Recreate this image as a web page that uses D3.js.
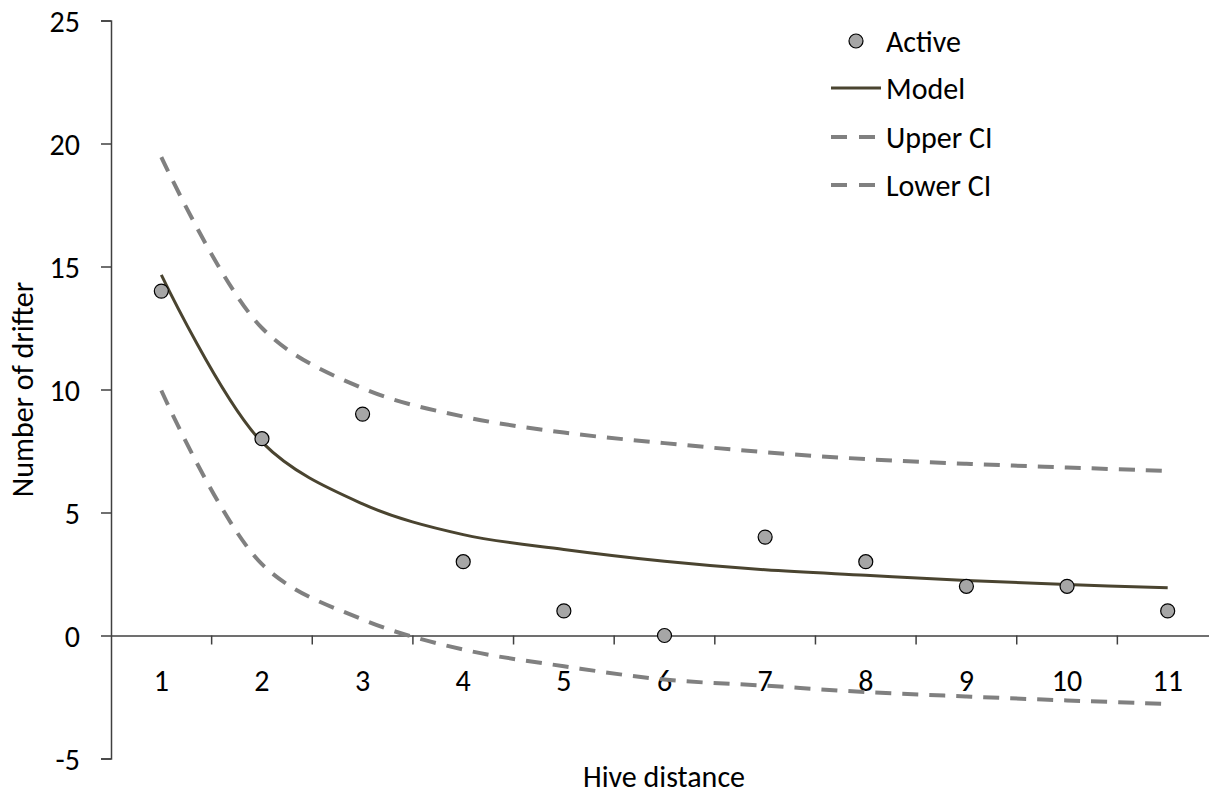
<!DOCTYPE html>
<html lang="en">
<head>
<meta charset="UTF-8">
<title>Hive distance drifters</title>
<script src="https://d3js.org/d3.v7.min.js"></script>
<style>
  body { margin: 0; background: #fff; }
  text { font-family: Carlito, Calibri, Lato, sans-serif; fill: #000; }
  .tick text { font-size: 30px; }
  .title { font-size: 30px; }
  .legend text { font-size: 30px; }
</style>
</head>
<body>
<svg width="1209" height="797"></svg>
<script>
// data
const distances = ["1", "2", "3", "4", "5", "6", "7", "8", "9", "10", "11"];
const active  = [14, 8, 9, 3, 1, 0, 4, 3, 2, 2, 1];
const model   = [14.66, 7.86, 5.35, 4.1, 3.5, 3.02, 2.67, 2.45, 2.24, 2.07, 1.94];
const upperCI = [19.45, 12.5, 10.05, 8.9, 8.25, 7.82, 7.45, 7.17, 6.98, 6.83, 6.69];
const lowerCI = [9.96, 2.9, 0.65, -0.57, -1.25, -1.79, -2.04, -2.3, -2.48, -2.64, -2.78];
const yTicks  = [-5, 0, 5, 10, 15, 20, 25];

const svg = d3.select("svg");
const plotL = 111, plotR = 1218, plotT = 20.5, plotB = 758.5;

const x = d3.scaleBand().domain(distances).range([plotL, plotR]);
const y = d3.scaleLinear().domain([-5, 25]).range([plotB, plotT]);
const cx = d => x(d) + x.bandwidth() / 2;

// y axis (plain hyphen for negatives)
const yG = svg.append("g")
    .attr("transform", `translate(${plotL},0)`)
    .call(d3.axisLeft(y).tickValues(yTicks).tickSize(10).tickPadding(21).tickFormat(d => String(d)));
yG.selectAll("path, line").attr("stroke", "#404040").attr("stroke-width", 1.5);
yG.selectAll("text").attr("dy", "0.35em");

// x axis sits on zero
const xG = svg.append("g")
    .attr("transform", `translate(0,${y(0)})`)
    .call(d3.axisBottom(x).tickSize(0).tickPadding(55));
xG.select("path").attr("stroke", "#404040").attr("stroke-width", 1.5);
xG.selectAll(".tick text").attr("dy", "0");
// tick marks between categories
xG.selectAll("line.sep")
  .data(distances.slice(1).concat(["end"]))
  .join("line").attr("class", "sep")
  .attr("x1", (d, i) => x(distances[0]) + x.step() * (i + 1))
  .attr("x2", (d, i) => x(distances[0]) + x.step() * (i + 1))
  .attr("y1", 0).attr("y2", 9)
  .attr("stroke", "#404040").attr("stroke-width", 1.5);

// lines
const lineOf = vals => d3.line()
    .x((d, i) => cx(distances[i]))
    .y(d => y(d))
    .curve(d3.curveCatmullRom.alpha(0.5))(vals);

svg.append("path").attr("d", lineOf(upperCI))
  .attr("fill", "none").attr("stroke", "#808080").attr("stroke-width", 4)
  .attr("stroke-dasharray", "16,11");
svg.append("path").attr("d", lineOf(lowerCI))
  .attr("fill", "none").attr("stroke", "#808080").attr("stroke-width", 4)
  .attr("stroke-dasharray", "16,11");
svg.append("path").attr("d", lineOf(model))
  .attr("fill", "none").attr("stroke", "#4a4430").attr("stroke-width", 3);

// points
svg.selectAll("circle.dot")
  .data(active)
  .join("circle").attr("class", "dot")
  .attr("cx", (d, i) => cx(distances[i]))
  .attr("cy", d => y(d))
  .attr("r", 7)
  .attr("fill", "#a6a6a6").attr("stroke", "#000").attr("stroke-width", 1.2);

// axis titles
svg.append("text").attr("class", "title")
  .attr("x", 664).attr("y", 787).attr("text-anchor", "middle")
  .text("Hive distance");
svg.append("text").attr("class", "title")
  .attr("transform", `translate(33,${y(10)}) rotate(-90)`)
  .attr("text-anchor", "middle")
  .text("Number of drifter");

// legend
const lg = svg.append("g").attr("class", "legend");
const rows = [41, 88, 137, 185];
lg.append("circle").attr("cx", 856).attr("cy", rows[0]).attr("r", 7)
  .attr("fill", "#a6a6a6").attr("stroke", "#000").attr("stroke-width", 1.2);
lg.append("line").attr("x1", 831).attr("x2", 881).attr("y1", rows[1]).attr("y2", rows[1])
  .attr("stroke", "#4a4430").attr("stroke-width", 3);
[2, 3].forEach(r => {
  lg.append("line").attr("x1", 831).attr("x2", 881).attr("y1", rows[r]).attr("y2", rows[r])
    .attr("stroke", "#808080").attr("stroke-width", 4).attr("stroke-dasharray", "16,12");
});
["Active", "Model", "Upper CI", "Lower CI"].forEach((t, i) => {
  lg.append("text").attr("x", 886).attr("y", rows[i]).attr("dy", "0.35em").text(t);
});
</script>
</body>
</html>
